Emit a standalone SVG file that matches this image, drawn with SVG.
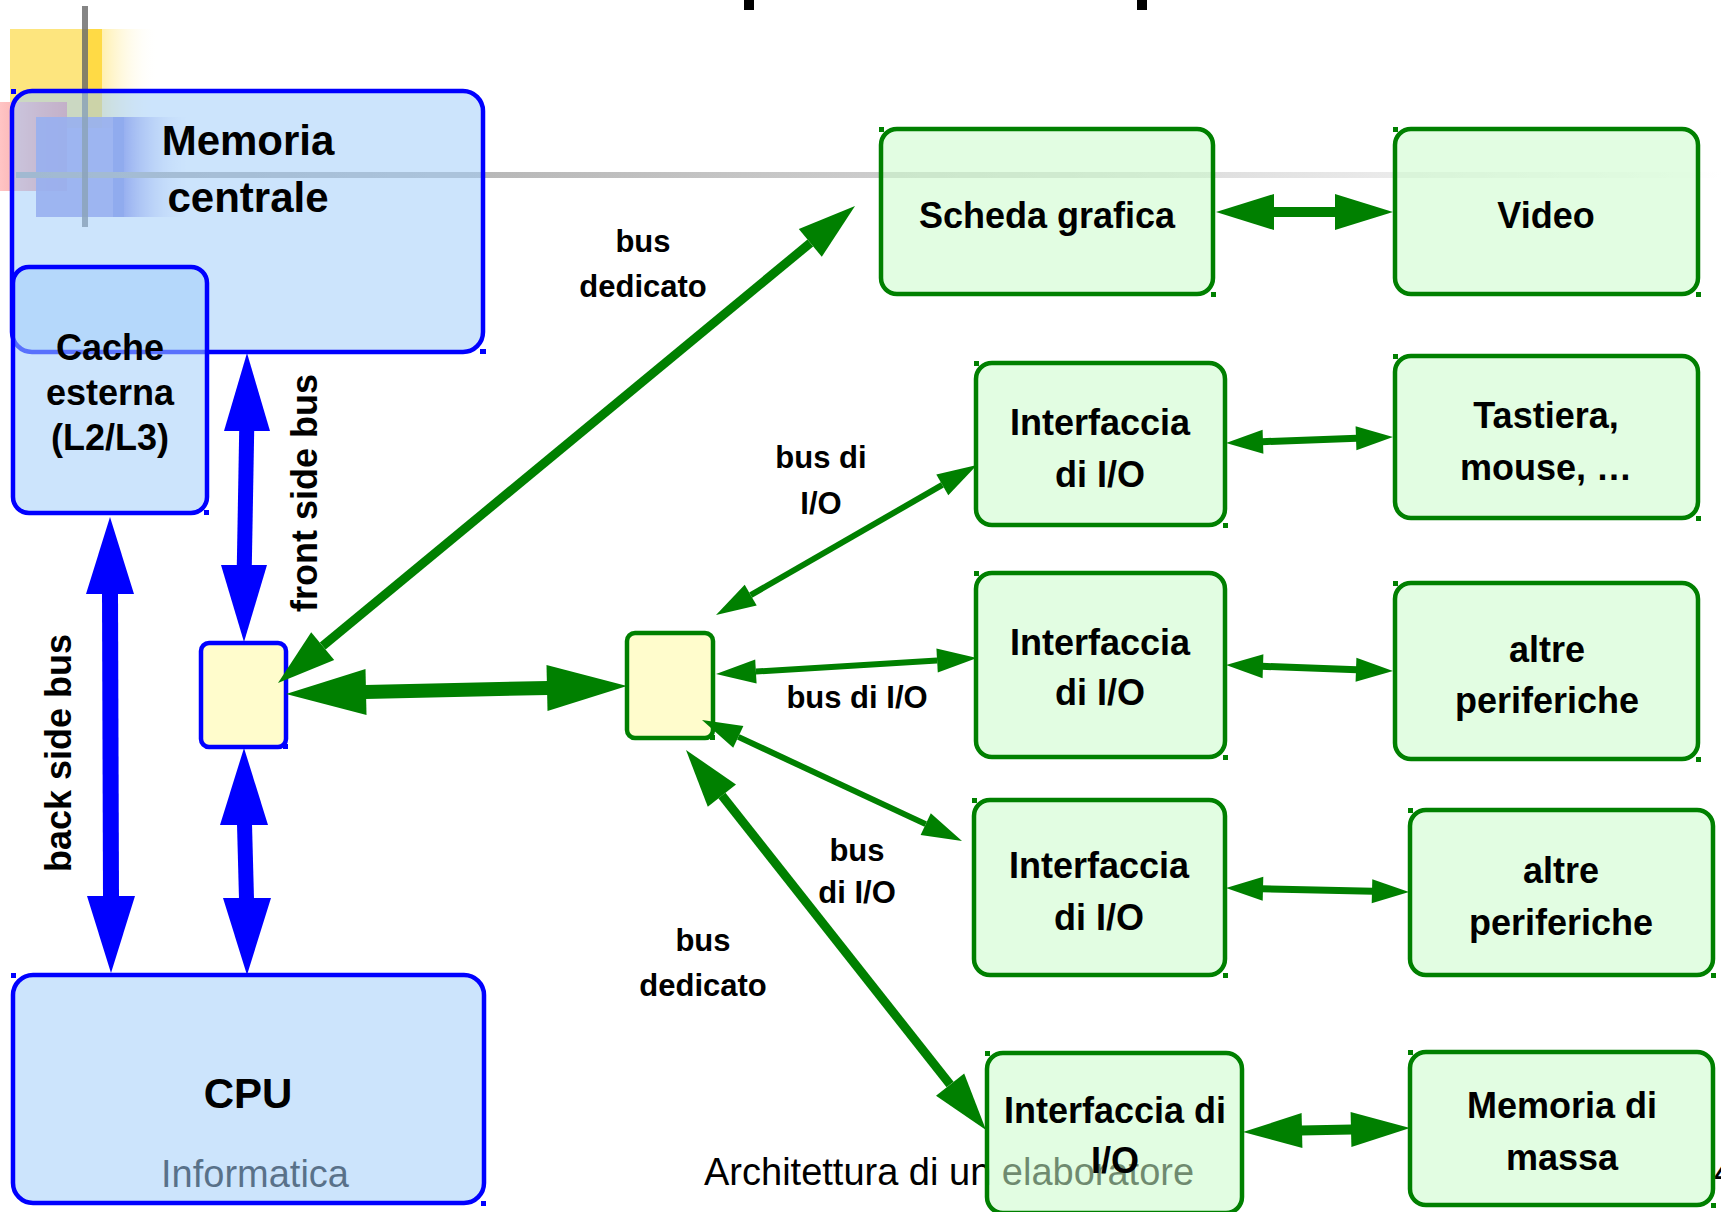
<svg xmlns="http://www.w3.org/2000/svg" width="1721" height="1212" viewBox="0 0 1721 1212">
<defs>
<linearGradient id="gYel" x1="0" x2="1" y1="0" y2="0"><stop offset="0" stop-color="#fff0b0"/><stop offset="1" stop-color="#ffffff" stop-opacity="0"/></linearGradient>
<linearGradient id="gRed" x1="0" x2="1" y1="0" y2="0"><stop offset="0" stop-color="#ffc4c4"/><stop offset="1" stop-color="#ec8c8c"/></linearGradient>
<linearGradient id="gBlu" x1="0" x2="1" y1="0" y2="0"><stop offset="0" stop-color="#8c8ce4"/><stop offset="1" stop-color="#ffffff" stop-opacity="0"/></linearGradient>
<linearGradient id="gLine" x1="0" x2="1" y1="0" y2="0"><stop offset="0" stop-color="#a0a0a0"/><stop offset="0.6" stop-color="#d4d4d4"/><stop offset="1" stop-color="#ffffff"/></linearGradient>
</defs>
<style>
.bn{fill:#a2cefa;fill-opacity:.55;stroke:#0000ff;stroke-width:4.5}
.gn{fill:#cafbca;fill-opacity:.55;stroke:#008000;stroke-width:4.5}
.ybb{fill:#fffccc;stroke:#0000ff;stroke-width:4.5}
.ybg{fill:#fffccc;stroke:#008000;stroke-width:4.5}
.tkb{fill:#0000ff}
.tkg{fill:#008000}
.t{font-family:"Liberation Sans",Arial,sans-serif;font-weight:bold;text-anchor:middle;fill:#000}
.big{font-size:42px}
.nd{font-size:36px}
.lb{font-size:31px}
.rl{font-size:36px}
.ft{font-family:"Liberation Sans",Arial,sans-serif;font-size:38px;fill:#000}
.bs{stroke:#0000ff;fill:none}
.gs{stroke:#008000;fill:none}
.bh{fill:#0000ff}
.gh{fill:#008000}
</style>
<rect width="1721" height="1212" fill="#ffffff"/>
<g id="decoration">
<rect x="744" y="0" width="10" height="10" fill="#000"/>
<rect x="1137" y="0" width="10" height="10" fill="#000"/>
<rect x="10" y="29" width="92" height="99" fill="#fde57e"/>
<rect x="82" y="29" width="20" height="99" fill="#ffda45"/>
<rect x="102" y="29" width="56" height="99" fill="url(#gYel)"/>
<rect x="0" y="102" width="67" height="89" fill="url(#gRed)"/>
<rect x="36" y="117" width="77" height="100" fill="#8c8ce4" opacity="0.9"/>
<rect x="113" y="117" width="11" height="100" fill="#7a80e0"/>
<rect x="124" y="117" width="69" height="100" fill="url(#gBlu)"/>
<rect x="16" y="172" width="1705" height="6" fill="url(#gLine)"/>
<rect x="82" y="6" width="6" height="221" fill="#707070" opacity="0.85"/>
</g>
<g id="footer">
<text class="ft" x="255" y="1187" text-anchor="middle">Informatica</text>
<text class="ft" x="704" y="1185">Architettura di un elaboratore</text>
<text class="ft" x="1714" y="1185">4</text>
</g>
<g id="memoria-centrale">
<rect class="bn" x="12" y="91" width="471" height="261" rx="20"/>
<rect class="tkb" x="11" y="89" width="5" height="5"/><rect class="tkb" x="480" y="349" width="6" height="5"/>
<text class="t big" x="248" y="155">Memoria</text>
<text class="t big" x="248" y="212">centrale</text>
</g>
<g id="cache-esterna">
<rect class="bn" x="13" y="267" width="194" height="246" rx="16"/>
<rect class="tkb" x="204" y="510" width="5" height="5"/>
<text class="t nd" x="110" y="360">Cache</text>
<text class="t nd" x="110" y="405">esterna</text>
<text class="t nd" x="110" y="450">(L2/L3)</text>
</g>
<g id="cpu">
<rect class="bn" x="13" y="975" width="471" height="228" rx="20"/>
<rect class="tkb" x="11" y="973" width="5" height="5"/><rect class="tkb" x="481" y="1201" width="5" height="5"/>
<text class="t big" x="248" y="1108">CPU</text>
</g>
<g id="bridge-cpu">
<rect class="ybb" x="201" y="643" width="85" height="104" rx="8"/>
<rect class="tkb" x="283" y="744" width="5" height="5"/>
</g>
<g id="bridge-io">
<rect class="ybg" x="627" y="633" width="86" height="105" rx="8"/>
<rect class="tkg" x="710" y="735" width="5" height="5"/>
</g>
<g id="scheda-grafica">
<rect class="gn" x="881" y="129" width="332" height="165" rx="16"/>
<rect class="tkg" x="879" y="127" width="5" height="5"/><rect class="tkg" x="1211" y="292" width="5" height="5"/>
<text class="t nd" x="1047" y="228">Scheda grafica</text>
</g>
<g id="video">
<rect class="gn" x="1395" y="129" width="303" height="165" rx="16"/>
<rect class="tkg" x="1393" y="127" width="5" height="5"/><rect class="tkg" x="1696" y="292" width="5" height="5"/>
<text class="t nd" x="1546" y="228">Video</text>
</g>
<g id="interfaccia-1">
<rect class="gn" x="976" y="363" width="249" height="162" rx="16"/>
<rect class="tkg" x="974" y="361" width="5" height="5"/><rect class="tkg" x="1223" y="523" width="5" height="5"/>
<text class="t nd" x="1100" y="435">Interfaccia</text>
<text class="t nd" x="1100" y="487">di I/O</text>
</g>
<g id="tastiera">
<rect class="gn" x="1395" y="356" width="303" height="162" rx="16"/>
<rect class="tkg" x="1393" y="354" width="5" height="5"/><rect class="tkg" x="1696" y="516" width="5" height="5"/>
<text class="t nd" x="1546" y="428">Tastiera,</text>
<text class="t nd" x="1546" y="480">mouse, …</text>
</g>
<g id="interfaccia-2">
<rect class="gn" x="976" y="573" width="249" height="184" rx="16"/>
<rect class="tkg" x="974" y="571" width="5" height="5"/><rect class="tkg" x="1223" y="755" width="5" height="5"/>
<text class="t nd" x="1100" y="655">Interfaccia</text>
<text class="t nd" x="1100" y="705">di I/O</text>
</g>
<g id="altre-periferiche-1">
<rect class="gn" x="1395" y="583" width="303" height="176" rx="16"/>
<rect class="tkg" x="1393" y="581" width="5" height="5"/><rect class="tkg" x="1696" y="757" width="5" height="5"/>
<text class="t nd" x="1547" y="662">altre</text>
<text class="t nd" x="1547" y="713">periferiche</text>
</g>
<g id="interfaccia-3">
<rect class="gn" x="974" y="800" width="251" height="175" rx="16"/>
<rect class="tkg" x="972" y="798" width="5" height="5"/><rect class="tkg" x="1223" y="973" width="5" height="5"/>
<text class="t nd" x="1099" y="878">Interfaccia</text>
<text class="t nd" x="1099" y="930">di I/O</text>
</g>
<g id="altre-periferiche-2">
<rect class="gn" x="1410" y="810" width="303" height="165" rx="16"/>
<rect class="tkg" x="1408" y="808" width="5" height="5"/><rect class="tkg" x="1711" y="973" width="5" height="5"/>
<text class="t nd" x="1561" y="883">altre</text>
<text class="t nd" x="1561" y="935">periferiche</text>
</g>
<g id="interfaccia-4">
<rect class="gn" x="987" y="1053" width="255" height="160" rx="16"/>
<rect class="tkg" x="985" y="1051" width="5" height="5"/>
<text class="t nd" x="1115" y="1123">Interfaccia di</text>
<text class="t nd" x="1115" y="1173">I/O</text>
</g>
<g id="memoria-di-massa">
<rect class="gn" x="1410" y="1052" width="303" height="153" rx="16"/>
<rect class="tkg" x="1408" y="1050" width="5" height="5"/><rect class="tkg" x="1711" y="1203" width="5" height="5"/>
<text class="t nd" x="1562" y="1118">Memoria di</text>
<text class="t nd" x="1562" y="1170">massa</text>
</g>
<g id="connectors">
<line class="bs" x1="246.7" y1="430" x2="244.3" y2="566" stroke-width="15"/>
<polygon class="bh" points="247,353 224,431 270,431"/>
<polygon class="bh" points="244,642 221,565 267,565"/>
<line class="bs" x1="110" y1="593" x2="111" y2="897" stroke-width="16"/>
<polygon class="bh" points="110,517 86,594 134,594"/>
<polygon class="bh" points="111,973 87,896 135,896"/>
<line class="bs" x1="244.5" y1="824" x2="246.5" y2="899" stroke-width="15"/>
<polygon class="bh" points="244,748 220,825 268,825"/>
<polygon class="bh" points="247,975 223,898 271,898"/>
<line class="gs" x1="365" y1="692.1" x2="548" y2="687.9" stroke-width="14"/>
<polygon class="gh" points="286,694 366.5,715.1 365.5,669.1"/>
<polygon class="gh" points="627,686 547.5,710.9 546.5,664.9"/>
<line class="gs" x1="322.7" y1="646" x2="810.3" y2="243" stroke-width="9"/>
<polygon class="gh" points="278,683 334.2,659.9 311.2,632.2"/>
<polygon class="gh" points="855,206 821.8,256.8 798.8,229.1"/>
<line class="gs" x1="750.7" y1="595.1" x2="942.3" y2="484.9" stroke-width="6"/>
<polygon class="gh" points="716,615 756.7,605.5 744.7,584.7"/>
<polygon class="gh" points="977,465 948.3,495.3 936.3,474.5"/>
<line class="gs" x1="755.9" y1="671.6" x2="937.1" y2="660.4" stroke-width="6"/>
<polygon class="gh" points="716,674 756.6,683.5 755.2,659.6"/>
<polygon class="gh" points="977,658 937.8,672.4 936.4,648.5"/>
<line class="gs" x1="738.3" y1="736.9" x2="925.7" y2="824.1" stroke-width="6"/>
<polygon class="gh" points="702,720 733.2,747.8 743.4,726"/>
<polygon class="gh" points="962,841 920.6,835 930.8,813.2"/>
<line class="gs" x1="721.9" y1="795.5" x2="950.1" y2="1084.5" stroke-width="9"/>
<polygon class="gh" points="686,750 707.8,806.7 736,784.4"/>
<polygon class="gh" points="986,1130 936,1095.7 964.2,1073.4"/>
<line class="gs" x1="1273" y1="212" x2="1336" y2="212" stroke-width="10"/>
<polygon class="gh" points="1216,212 1274,194 1274,230"/>
<polygon class="gh" points="1393,212 1335,194 1335,230"/>
<line class="gs" x1="1262" y1="441.7" x2="1357" y2="438.3" stroke-width="7"/>
<polygon class="gh" points="1226,443 1263.4,453.7 1262.6,429.7"/>
<polygon class="gh" points="1393,437 1356.4,450.3 1355.6,426.3"/>
<line class="gs" x1="1262" y1="666.3" x2="1357" y2="669.7" stroke-width="7"/>
<polygon class="gh" points="1226,665 1262.6,678.3 1263.4,654.3"/>
<polygon class="gh" points="1393,671 1355.6,681.7 1356.4,657.7"/>
<line class="gs" x1="1262" y1="888.8" x2="1373" y2="891.2" stroke-width="7"/>
<polygon class="gh" points="1226,888 1262.7,900.8 1263.3,876.8"/>
<polygon class="gh" points="1409,892 1371.7,903.2 1372.3,879.2"/>
<line class="gs" x1="1301" y1="1130.6" x2="1352" y2="1129.4" stroke-width="10"/>
<polygon class="gh" points="1243,1132 1302.4,1148.1 1301.6,1113.1"/>
<polygon class="gh" points="1410,1128 1351.4,1146.9 1350.6,1111.9"/>
</g>
<g id="labels">
<text class="t rl" transform="translate(317,493) rotate(-90)">front side bus</text>
<text class="t rl" transform="translate(71,753) rotate(-90)">back side bus</text>
<text class="t lb" x="643" y="252">bus</text>
<text class="t lb" x="643" y="297">dedicato</text>
<text class="t lb" x="821" y="468">bus di</text>
<text class="t lb" x="821" y="514">I/O</text>
<text class="t lb" x="857" y="708">bus di I/O</text>
<text class="t lb" x="857" y="861">bus</text>
<text class="t lb" x="857" y="903">di I/O</text>
<text class="t lb" x="703" y="951">bus</text>
<text class="t lb" x="703" y="996">dedicato</text>
</g>
</svg>
